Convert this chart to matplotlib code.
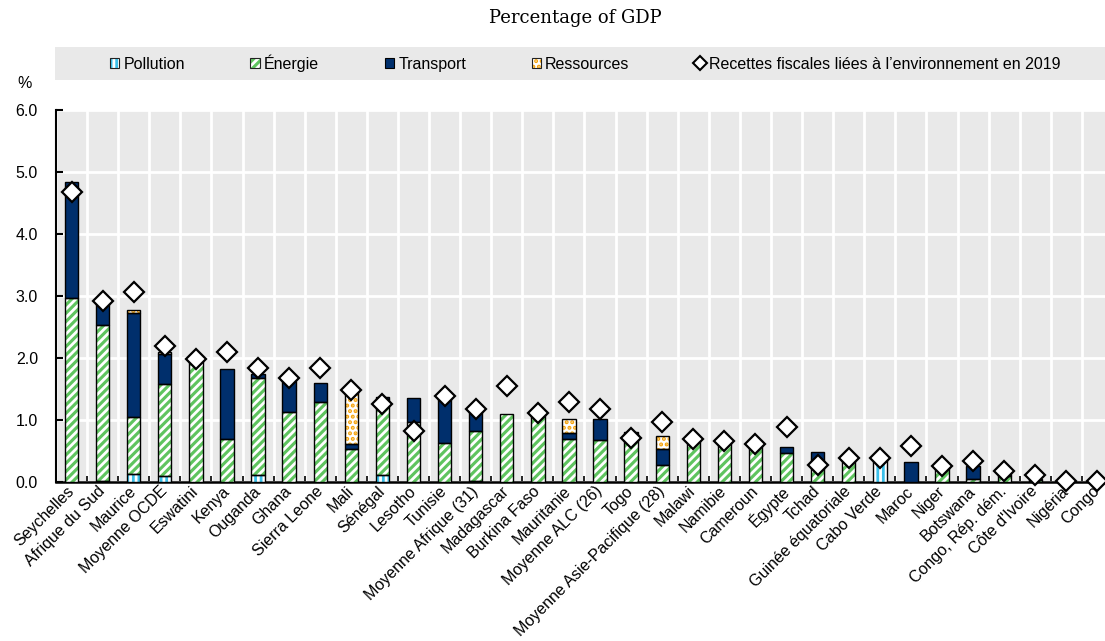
import matplotlib
matplotlib.use("Agg")
import matplotlib.pyplot as plt
import numpy as np
from matplotlib.patches import Rectangle, Patch
from matplotlib.lines import Line2D
from matplotlib import font_manager

countries = ["Seychelles", "Afrique du Sud", "Maurice", "Moyenne OCDE", "Eswatini", "Kenya",
             "Ouganda", "Ghana", "Sierra Leone", "Mali", "Sénégal", "Lesotho", "Tunisie",
             "Moyenne Afrique (31)", "Madagascar", "Burkina Faso", "Mauritanie",
             "Moyenne ALC (26)", "Togo", "Moyenne Asie-Pacifique (28)", "Malawi", "Namibie",
             "Cameroun", "Égypte", "Tchad", "Guinée équatoriale", "Cabo Verde", "Maroc",
             "Niger", "Botswana", "Congo, Rép. dém.", "Côte d'Ivoire", "Nigéria", "Congo"]

pollution = [0, 0.02, 0.13, 0.09, 0, 0, 0.11, 0, 0, 0, 0.11, 0, 0, 0.02, 0, 0, 0,
             0, 0, 0, 0, 0, 0, 0, 0, 0, 0.34, 0, 0, 0, 0, 0, 0, 0]
energie = [2.96, 2.52, 0.92, 1.49, 2.00, 0.70, 1.56, 1.13, 1.29, 0.54, 1.23, 0.97, 0.63,
           0.81, 1.10, 1.08, 0.70, 0.67, 0.76, 0.27, 0.67, 0.63, 0.59, 0.46, 0.30, 0.35,
           0.02, 0, 0.24, 0.05, 0.10, 0.03, 0, 0]
transport = [1.88, 0.38, 1.68, 0.48, 0.03, 1.13, 0.08, 0.50, 0.31, 0.08, 0.03, 0.38, 0.71,
             0.33, 0, 0.02, 0.09, 0.34, 0.05, 0.26, 0, 0, 0, 0.10, 0.18, 0, 0, 0.33,
             0, 0.20, 0.03, 0.02, 0, 0]
ressources = [0, 0, 0.04, 0.04, 0, 0, 0, 0, 0, 0.83, 0, 0, 0, 0, 0, 0, 0.22, 0, 0, 0.22,
              0, 0, 0, 0, 0, 0, 0, 0, 0, 0, 0, 0, 0, 0]
recettes_2019 = [4.67, 2.92, 3.06, 2.19, 1.98, 2.10, 1.84, 1.67, 1.84, 1.48, 1.26, 0.83,
                 1.38, 1.18, 1.55, 1.11, 1.29, 1.17, 0.71, 0.97, 0.70, 0.66, 0.61, 0.89,
                 0.28, 0.38, 0.38, 0.58, 0.26, 0.34, 0.18, 0.11, 0.02, 0.02]

yticks = [0.0, 1.0, 2.0, 3.0, 4.0, 5.0, 6.0]

names = {f.name for f in font_manager.fontManager.ttflist}
if 'Liberation Sans Narrow' in names:
    FONT = ['Liberation Sans Narrow', 'DejaVu Sans']
    FS = 13
else:
    FONT = ['Liberation Sans', 'DejaVu Sans']
    FS = 11.5
plt.rcParams['font.family'] = FONT
plt.rcParams['hatch.linewidth'] = 2.0

W, H = 1105, 641
fig = plt.figure(figsize=(W / 100, H / 100), dpi=100)

def fx(px):
    return px / W

def fy(py):
    return 1 - py / H

ax_left, ax_right, ax_top, ax_bottom = 56, 1113, 110, 482
ax = fig.add_axes([fx(ax_left), fy(ax_bottom), fx(ax_right - ax_left), (ax_bottom - ax_top) / H])
ax.set_facecolor('#E9E9E9')

n = len(countries)
x = np.arange(n)
width = 0.43

C_POL = '#3CC0EA'
C_ENE = '#5FC45F'
C_TRA = '#002F6C'
C_RES = '#F5A30A'

series = [
    (pollution, C_POL, 'white', '|||'),
    (energie, C_ENE, 'white', '////'),
    (transport, C_TRA, C_TRA, None),
    (ressources, 'white', C_RES, '...'),
]
bottom = np.zeros(n)
for vals, fc, hc, hatch in series:
    v = np.array(vals, dtype=float)
    mask = v > 0
    ax.bar(x[mask], v[mask], width, bottom=bottom[mask], color=fc, edgecolor=hc,
           hatch=hatch, linewidth=0, zorder=3)
    ax.bar(x[mask], v[mask], width, bottom=bottom[mask], fill=False,
           edgecolor='black', linewidth=1.0, zorder=4)
    bottom += v

ax.plot(x, recettes_2019, linestyle='none', marker='D', markersize=10,
        markerfacecolor='white', markeredgecolor='black', markeredgewidth=1.6,
        zorder=6, clip_on=False)

ax.set_xlim(-0.5, n - 0.5)
ax.set_ylim(0, 6.0)
ax.set_yticks(yticks)
ax.set_yticklabels([f"{t:.1f}" for t in yticks], fontsize=FS)
ax.set_xticks(x)
ax.set_xticklabels(countries, rotation=45, ha='right', va='center', rotation_mode='anchor',
                   fontsize=FS)
ax.tick_params(axis='x', which='major', length=0, pad=5)
ax.set_xticks(np.arange(-0.5, n, 1.0), minor=True)
ax.tick_params(axis='x', which='minor', length=4, direction='in', width=1.2)
ax.tick_params(axis='y', length=5, width=1.5, direction='in', pad=13)

ax.grid(True, axis='y', color='white', linewidth=2, zorder=0)
ax.grid(True, axis='x', which='minor', color='white', linewidth=2, zorder=0)
ax.grid(False, axis='x', which='major')
ax.set_axisbelow(True)
for s in ['top', 'right']:
    ax.spines[s].set_visible(False)
ax.spines['left'].set_linewidth(1.5)
ax.spines['bottom'].set_linewidth(1.8)

fig.text(fx(25), fy(84), '%', fontsize=FS, ha='center', va='center')

fig.text(fx(575), fy(18), 'Percentage of GDP', fontsize=13, ha='center', va='center',
         family=['DejaVu Serif'])

fig.patches.append(Rectangle((fx(55), fy(80)), fx(1105 - 55), (80 - 47) / H,
                             transform=fig.transFigure, facecolor='#E9E9E9',
                             edgecolor='none', zorder=0))

outline = dict(fill=False, edgecolor='#222222', linewidth=0.8)
handles = [
    (Patch(facecolor=C_POL, edgecolor='white', hatch='|||', linewidth=0), Patch(**outline)),
    (Patch(facecolor=C_ENE, edgecolor='white', hatch='////', linewidth=0), Patch(**outline)),
    Patch(facecolor=C_TRA, edgecolor='black', linewidth=0.8),
    (Patch(facecolor='white', edgecolor=C_RES, hatch='...', linewidth=0), Patch(**outline)),
    Line2D([], [], linestyle='none', marker='D', markersize=7, markerfacecolor='white',
           markeredgecolor='black', markeredgewidth=1.5),
]
labels = ['Pollution', 'Énergie', 'Transport', 'Ressources',
          'Recettes fiscales liées à l\u2019environnement en 2019']
leg = fig.legend(handles, labels, loc='center', bbox_to_anchor=(fx(585), fy(63)), ncol=5,
                 frameon=False, fontsize=FS, handlelength=0.6, handleheight=0.6,
                 handletextpad=0.25, columnspacing=4.1)

fig.savefig('out.png', dpi=100)
